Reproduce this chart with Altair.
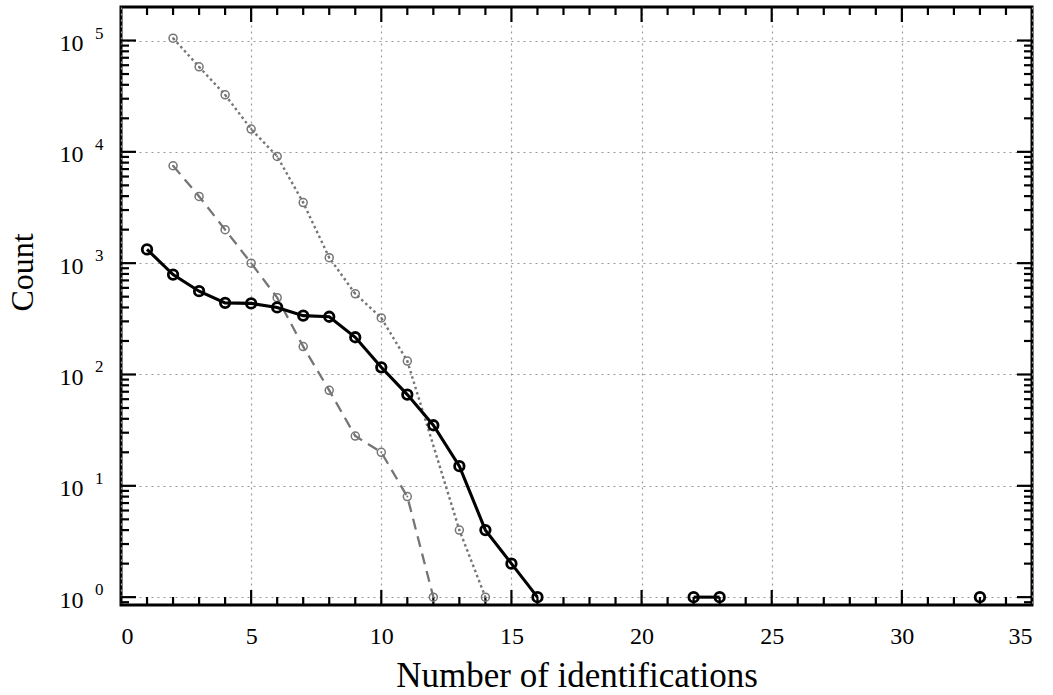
import altair as alt
import pandas as pd

# ---- data ----
x_solid = [1, 2, 3, 4, 5, 6, 7, 8, 9, 10, 11, 12, 13, 14, 15, 16, 22, 23, 33]
y_solid = [1330, 790, 560, 440, 435, 400, 338, 330, 216, 116, 66, 35, 15, 4, 2, 1, 1, 1, 1]
seg_solid = [0] * 16 + [1, 1] + [2]

x_dashed = [2, 3, 4, 5, 6, 7, 8, 9, 10, 11, 12]
y_dashed = [7500, 3980, 2000, 1000, 490, 178, 72, 28, 20, 8, 1]

x_dotted = [2, 3, 4, 5, 6, 7, 8, 9, 10, 11, 13, 14]
y_dotted = [105000, 58000, 32500, 16000, 9100, 3500, 1120, 530, 322, 132, 4, 1]

x_major = [0, 5, 10, 15, 20, 25, 30, 35]
y_major = [1, 10, 100, 1000, 10000, 100000]
y_exponents = ["0", "1", "2", "3", "4", "5"]

X_DOMAIN = [0, 35]
Y_DOMAIN = [0.85, 2.0e5]

W, H = 911, 598
FONT = "Liberation Serif"
GRAY = "#757575"

solid = pd.DataFrame({"x": x_solid, "y": y_solid, "seg": seg_solid})
dashed = pd.DataFrame({"x": x_dashed, "y": y_dashed})
dotted = pd.DataFrame({"x": x_dotted, "y": y_dotted})
exps = pd.DataFrame({"v": y_major, "e": y_exponents})

xs = alt.Scale(domain=X_DOMAIN, nice=False, zero=False)
ys = alt.Scale(type="log", domain=Y_DOMAIN, nice=False)

xax = alt.Axis(values=x_major, ticks=False, domain=False, grid=True,
               gridDash=[2, 4], gridColor="#9a9a9a", gridWidth=1.2,
               labelFont=FONT, labelFontSize=24, labelColor="black", labelPadding=19,
               title="Number of identifications", titleFont=FONT, titleFontSize=35,
               titleFontWeight="normal", titleColor="black", titlePadding=10)
yax = alt.Axis(values=y_major, ticks=False, domain=False, grid=True,
               gridDash=[2, 4], gridColor="#9a9a9a", gridWidth=1.2,
               labelExpr="'10'", labelOffset=3,
               labelFont=FONT, labelFontSize=24, labelColor="black", labelPadding=38,
               title="Count", titleFont=FONT, titleFontSize=32, titleY=265,
               titleFontWeight="normal", titleColor="black", titlePadding=20)

# main (axes carrier) : dotted series
dotted_line = alt.Chart(dotted).mark_line(color=GRAY, strokeWidth=2.4, strokeDash=[2.5, 3]).encode(
    x=alt.X("x:Q", scale=xs, axis=xax),
    y=alt.Y("y:Q", scale=ys, axis=yax),
)
dotted_pts = alt.Chart(dotted).mark_point(shape="circle", filled=False, size=64, strokeWidth=1.5,
                                          color=GRAY, opacity=1).encode(
    x=alt.X("x:Q", scale=xs), y=alt.Y("y:Q", scale=ys))
dotted_ctr = alt.Chart(dotted).mark_point(shape="circle", filled=True, size=4,
                                          color=GRAY, opacity=1).encode(
    x=alt.X("x:Q", scale=xs), y=alt.Y("y:Q", scale=ys))

dashed_line = alt.Chart(dashed).mark_line(color=GRAY, strokeWidth=2.3, strokeDash=[11, 7]).encode(
    x=alt.X("x:Q", scale=xs), y=alt.Y("y:Q", scale=ys))
dashed_pts = alt.Chart(dashed).mark_point(shape="circle", filled=False, size=64, strokeWidth=1.5,
                                          color=GRAY, opacity=1).encode(
    x=alt.X("x:Q", scale=xs), y=alt.Y("y:Q", scale=ys))
dashed_ctr = alt.Chart(dashed).mark_point(shape="circle", filled=True, size=4,
                                          color=GRAY, opacity=1).encode(
    x=alt.X("x:Q", scale=xs), y=alt.Y("y:Q", scale=ys))

solid_line = alt.Chart(solid).mark_line(color="black", strokeWidth=3.1).encode(
    x=alt.X("x:Q", scale=xs), y=alt.Y("y:Q", scale=ys), detail="seg:N")
solid_pts = alt.Chart(solid).mark_point(shape="circle", filled=False, size=90, strokeWidth=2.8,
                                        color="black", opacity=1).encode(
    x=alt.X("x:Q", scale=xs), y=alt.Y("y:Q", scale=ys))

# exponents of the y tick labels (10^n)
exp_text = alt.Chart(exps).mark_text(font=FONT, fontSize=17, align="left", baseline="alphabetic",
                                     dy=-2, color="black").encode(
    y=alt.Y("v:Q", scale=ys), x=alt.value(-26), text="e:N")

# ---- inward ticks on all four sides ----
x_minor = [v for v in range(1, 35) if v % 5 != 0]
x_maj_in = [5, 10, 15, 20, 25, 30]
y_minor = [m * 10.0 ** d for d in range(-1, 6) for m in range(2, 10)
           if Y_DOMAIN[0] <= m * 10.0 ** d < 1.9e5]

def xticks(vals, length):
    df = pd.DataFrame({"t": vals})
    base = alt.Chart(df).mark_rule(color="black", strokeWidth=2.2)
    bot = base.encode(x=alt.X("t:Q", scale=xs), y=alt.value(H), y2=alt.value(H - length))
    top = base.encode(x=alt.X("t:Q", scale=xs), y=alt.value(0), y2=alt.value(length))
    return [bot, top]

def yticks(vals, length):
    df = pd.DataFrame({"t": vals})
    base = alt.Chart(df).mark_rule(color="black", strokeWidth=2.2)
    left = base.encode(y=alt.Y("t:Q", scale=ys), x=alt.value(0), x2=alt.value(length))
    right = base.encode(y=alt.Y("t:Q", scale=ys), x=alt.value(W), x2=alt.value(W - length))
    return [left, right]

ticks = xticks(x_maj_in, 15) + xticks(x_minor, 8) + yticks(y_major, 15) + yticks(y_minor, 8)

chart = alt.layer(
    dotted_line, *ticks, exp_text, dotted_pts, dotted_ctr,
    dashed_line, dashed_pts, dashed_ctr,
    solid_line, solid_pts,
).properties(
    width=W, height=H,
    background="white",
    padding={"left": 121, "top": 7, "right": 21, "bottom": 90},
    autosize=alt.AutoSizeParams(type="none"),
).configure_view(stroke="black", strokeWidth=3)

chart.save("out.html", embed_options={"renderer": "svg", "actions": False})
